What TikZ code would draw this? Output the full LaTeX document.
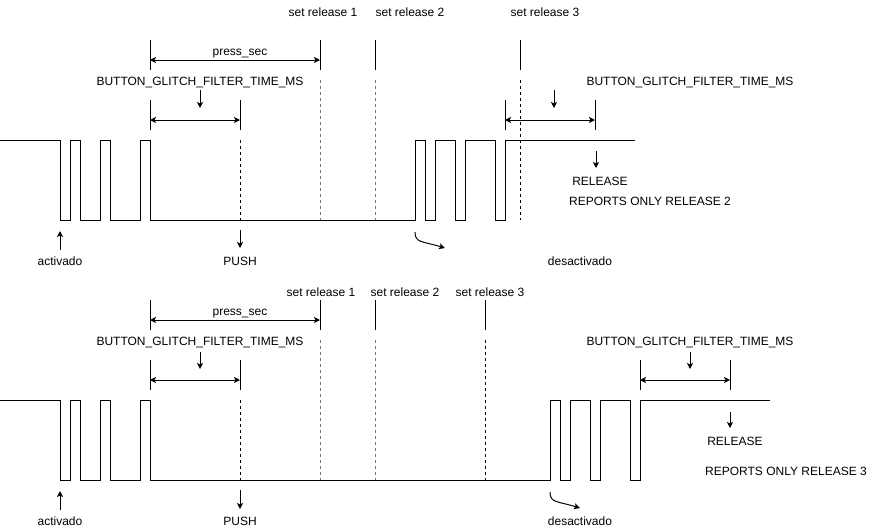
\documentclass[tikz,border=0pt]{standalone}
\usepackage{fontspec}
\setmainfont{Liberation Sans}
\usetikzlibrary{arrows.meta}

\begin{document}
\begin{tikzpicture}[
     x = 1pt, y = -1pt, % pixel grid, y downwards
     > = {Stealth[length=6pt,width=6pt,inset=1.5pt]}, % arrow head style
     line width = 1pt,
     font = \fontsize{12}{14}\selectfont
 ]

 \tikzstyle{label} = [
     inner sep = 0pt,
     text height = 8.6pt,
     text depth = 0pt,
     anchor = center
 ]
 \tikzstyle{wave} = [
     draw = black,
     line join = miter
 ]
 \tikzstyle{tick} = [
     draw = black
 ]
 \tikzstyle{guide} = [
     draw = black!55,
     dash pattern = on 3pt off 3pt
 ]
 \tikzstyle{pushguide} = [
     draw = black,
     dash pattern = on 3pt off 3pt
 ]

 \useasboundingbox (0,0) rectangle (876,531);

 % ---------- first case ----------
 \node[label] (rel1a) at (323,12) {set release 1};
 \node[label] (rel2a) at (410,12) {set release 2};
 \node[label] (rel3a) at (545,12) {set release 3};
 \node[label] (pressa) at (240,51) {press\_sec};
 \node[label] (glitchla) at (200,81) {BUTTON\_GLITCH\_FILTER\_TIME\_MS};
 \node[label] (glitchra) at (690,81) {BUTTON\_GLITCH\_FILTER\_TIME\_MS};
 \node[label] (releasea) at (600,181) {RELEASE};
 \node[label] (reportsa) at (650,201) {REPORTS ONLY RELEASE 2};
 \node[label] (activa) at (60,261) {activado};
 \node[label] (pusha) at (240,261) {PUSH};
 \node[label] (desacta) at (580,261) {desactivado};

 \draw[wave] (0,140) -- (60,140) -- (60,220) -- (70,220) -- (70,140)
     -- (80,140) -- (80,220) -- (100,220) -- (100,140) -- (110,140)
     -- (110,220) -- (140,220) -- (140,140) -- (150,140) -- (150,220)
     -- (415,220) -- (415,140) -- (425,140) -- (425,220) -- (435,220)
     -- (435,140) -- (455,140) -- (455,220) -- (465,220) -- (465,140)
     -- (495,140) -- (495,220) -- (505,220) -- (505,140) -- (635,140);

 % ticks
 \draw[tick] (150,40) -- (150,70);
 \draw[tick] (150,100) -- (150,130);
 \draw[tick] (320,40) -- (320,70);
 \draw[tick] (375,40) -- (375,70);
 \draw[tick] (520,40) -- (520,70);
 \draw[tick] (240,100) -- (240,130);
 \draw[tick] (505,100) -- (505,130);
 \draw[tick] (595,100) -- (595,130);
 \draw[guide] (320,80) -- (320,220);
 \draw[guide] (375,80) -- (375,220);
 \draw[pushguide] (520,80) -- (520,220);
 \draw[pushguide] (240,140) -- (240,220);

 % dimension ends
 \coordinate (psla) at (150,60);
 \coordinate (psra) at (320,60);
 \coordinate (gla) at (150,120);
 \coordinate (gra) at (240,120);
 \coordinate (g2la) at (505,120);
 \coordinate (g2ra) at (595,120);
 \path[<->] (psla) edge (psra);
 \path[<->] (gla) edge (gra);
 \path[<->] (g2la) edge (g2ra);

 % pointers
 \coordinate (ga1) at (200,90);   \coordinate (ga2) at (200,108);
 \coordinate (gb1) at (554,90);   \coordinate (gb2) at (554,108);
 \coordinate (ra1) at (596,151);  \coordinate (ra2) at (596,168);
 \coordinate (aa1) at (60,250);   \coordinate (aa2) at (60,231);
 \coordinate (pa1) at (240,230);  \coordinate (pa2) at (240,248);
 \coordinate (da1) at (415,232);  \coordinate (da2) at (445,248);
 \path[->] (ga1) edge (ga2);
 \path[->] (gb1) edge (gb2);
 \path[->] (ra1) edge (ra2);
 \path[->] (aa1) edge (aa2);
 \path[->] (pa1) edge (pa2);
 \draw[->] (da1) .. controls (415,243) and (422,241) .. (da2);

 % ---------- second case ----------
 \node[label] (rel1b) at (321,292) {set release 1};
 \node[label] (rel2b) at (405,292) {set release 2};
 \node[label] (rel3b) at (490,292) {set release 3};
 \node[label] (pressb) at (240,311) {press\_sec};
 \node[label] (glitchlb) at (200,341) {BUTTON\_GLITCH\_FILTER\_TIME\_MS};
 \node[label] (glitchrb) at (690,341) {BUTTON\_GLITCH\_FILTER\_TIME\_MS};
 \node[label] (releaseb) at (735,441) {RELEASE};
 \node[label] (reportsb) at (786,471) {REPORTS ONLY RELEASE 3};
 \node[label] (activb) at (60,521) {activado};
 \node[label] (pushb) at (240,521) {PUSH};
 \node[label] (desactb) at (580,521) {desactivado};

 \draw[wave] (0,400) -- (60,400) -- (60,480) -- (70,480) -- (70,400)
     -- (80,400) -- (80,480) -- (100,480) -- (100,400) -- (110,400)
     -- (110,480) -- (140,480) -- (140,400) -- (150,400) -- (150,480)
     -- (550,480) -- (550,400) -- (560,400) -- (560,480) -- (570,480)
     -- (570,400) -- (590,400) -- (590,480) -- (600,480) -- (600,400)
     -- (630,400) -- (630,480) -- (640,480) -- (640,400) -- (770,400);

 % ticks
 \draw[tick] (150,300) -- (150,330);
 \draw[tick] (150,360) -- (150,390);
 \draw[tick] (320,300) -- (320,330);
 \draw[tick] (375,300) -- (375,330);
 \draw[tick] (485,300) -- (485,330);
 \draw[tick] (240,360) -- (240,390);
 \draw[tick] (640,360) -- (640,390);
 \draw[tick] (730,360) -- (730,390);
 \draw[guide] (320,340) -- (320,480);
 \draw[guide] (375,340) -- (375,480);
 \draw[pushguide] (485,340) -- (485,480);
 \draw[pushguide] (240,400) -- (240,480);

 % dimension ends
 \coordinate (pslb) at (150,320);
 \coordinate (psrb) at (320,320);
 \coordinate (glb) at (150,380);
 \coordinate (grb) at (240,380);
 \coordinate (g2lb) at (640,380);
 \coordinate (g2rb) at (730,380);
 \path[<->] (pslb) edge (psrb);
 \path[<->] (glb) edge (grb);
 \path[<->] (g2lb) edge (g2rb);

 % pointers
 \coordinate (gc1) at (200,352);  \coordinate (gc2) at (200,369);
 \coordinate (gd1) at (690,352);  \coordinate (gd2) at (690,369);
 \coordinate (rb1) at (730,412);  \coordinate (rb2) at (730,428);
 \coordinate (ab1) at (60,510);   \coordinate (ab2) at (60,491);
 \coordinate (pb1) at (240,490);  \coordinate (pb2) at (240,509);
 \coordinate (db1) at (550,492);  \coordinate (db2) at (580,508);
 \path[->] (gc1) edge (gc2);
 \path[->] (gd1) edge (gd2);
 \path[->] (rb1) edge (rb2);
 \path[->] (ab1) edge (ab2);
 \path[->] (pb1) edge (pb2);
 \draw[->] (db1) .. controls (550,503) and (557,501) .. (db2);
\end{tikzpicture}
\end{document}
